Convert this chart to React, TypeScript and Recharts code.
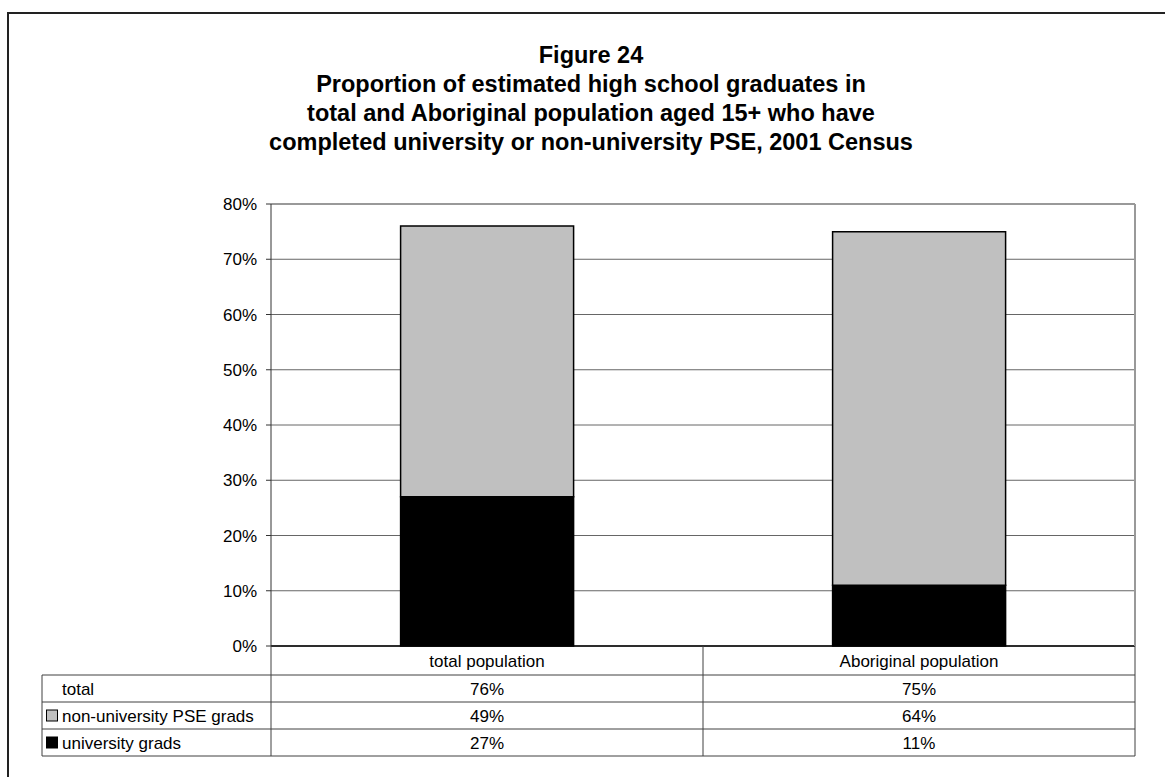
import React from "react";
import {
  BarChart,
  Bar,
  XAxis,
  YAxis,
  CartesianGrid,
  ReferenceLine,
} from "recharts";

const categories = ["total population", "Aboriginal population"];
const universityGrads = [27, 11];
const nonUniversityGrads = [49, 64];
const totals = [76, 75];
const yTicks = [0, 10, 20, 30, 40, 50, 60, 70, 80];

const rowLabels = ["total", "non-university PSE grads", "university grads"];
const rowColors = [null, "#c0c0c0", "#000000"];

const data = categories.map((name, i) => ({
  name,
  university: universityGrads[i],
  nonUniversity: nonUniversityGrads[i],
}));

const FONT = '"Liberation Sans", Arial, Helvetica, sans-serif';
const W = 1165;
const H = 777;
const PLOT_LEFT = 271;
const PLOT_RIGHT = 1135;
const PLOT_TOP = 204;
const PLOT_BOTTOM = 646;
const Y_AXIS_W = 80;
const X_AXIS_H = 110;
const ROW_H = 27;
const TABLE_LEFT = 42;
const LINE = "#404040";

const halfBand = (PLOT_RIGHT - PLOT_LEFT) / categories.length / 2;

// header label + data table cells drawn under each category
const TableTick = (props: any) => {
  const { x, payload, index } = props;
  const headBottom = PLOT_BOTTOM + 29;
  const tableBottom = headBottom + ROW_H * 3;
  const rowValues = [totals, nonUniversityGrads, universityGrads];
  const last = index === categories.length - 1;
  return (
    <g>
      {index === 0 && (
        <g>
          {[0, 1, 2, 3].map((r) => (
            <line
              key={r}
              x1={TABLE_LEFT}
              x2={PLOT_RIGHT}
              y1={headBottom + r * ROW_H}
              y2={headBottom + r * ROW_H}
              stroke={LINE}
            />
          ))}
          <line x1={TABLE_LEFT} x2={TABLE_LEFT} y1={headBottom} y2={tableBottom} stroke={LINE} />
          <line x1={x - halfBand} x2={x - halfBand} y1={PLOT_BOTTOM} y2={tableBottom} stroke={LINE} />
          {rowLabels.map((label, r) => {
            const cy = headBottom + r * ROW_H + ROW_H / 2;
            return (
              <g key={label}>
                {rowColors[r] && (
                  <rect x={46.5} y={cy - 5.5} width={11} height={11} fill={rowColors[r] as string} stroke="#000" />
                )}
                <text x={62} y={cy} dy="0.36em" fontSize={17} fill="#000" fontFamily={FONT}>
                  {label}
                </text>
              </g>
            );
          })}
        </g>
      )}
      <line x1={x + halfBand} x2={x + halfBand} y1={PLOT_BOTTOM} y2={tableBottom} stroke={LINE} />
      {last && (
        <line x1={x + halfBand} x2={x + halfBand} y1={PLOT_TOP} y2={PLOT_BOTTOM} stroke="#999" strokeWidth={2} />
      )}
      <text x={x} y={PLOT_BOTTOM + 15} dy="0.36em" textAnchor="middle" fontSize={17} fill="#000" fontFamily={FONT}>
        {payload.value}
      </text>
      {rowValues.map((vals, r) => (
        <text
          key={r}
          x={x}
          y={headBottom + r * ROW_H + ROW_H / 2}
          dy="0.36em"
          textAnchor="middle"
          fontSize={17}
          fill="#000"
          fontFamily={FONT}
        >
          {vals[index]}%
        </text>
      ))}
    </g>
  );
};

const App: React.FC = () => {
  return (
    <div style={{ position: "absolute", left: 0, top: 0, width: W, height: H, background: "#fff", fontFamily: FONT }}>
      <div
        style={{
          position: "absolute",
          left: 7,
          top: 12,
          width: W - 7,
          height: H - 12,
          boxSizing: "border-box",
          borderTop: "2px solid #222",
          borderLeft: "2px solid #222",
        }}
      />
      <div
        style={{
          position: "absolute",
          left: 91,
          top: 41,
          width: 1000,
          textAlign: "center",
          fontWeight: "bold",
          fontSize: 23.5,
          lineHeight: "29px",
          color: "#000",
        }}
      >
        Figure 24
        <br />
        Proportion of estimated high school graduates in
        <br />
        total and Aboriginal population aged 15+ who have
        <br />
        completed university or non-university PSE, 2001 Census
      </div>
      <div style={{ position: "absolute", left: 0, top: 0 }}>
        <BarChart
          width={W}
          height={H}
          data={data}
          barCategoryGap="30%"
          margin={{
            top: PLOT_TOP,
            right: W - PLOT_RIGHT,
            left: PLOT_LEFT - Y_AXIS_W,
            bottom: H - PLOT_BOTTOM - X_AXIS_H,
          }}
        >
          <CartesianGrid vertical={false} stroke="#666" />
          <XAxis
            dataKey="name"
            height={X_AXIS_H}
            axisLine={{ stroke: "#000", strokeWidth: 1.5 }}
            tickLine={false}
            interval={0}
            tick={<TableTick />}
          />
          <YAxis
            type="number"
            domain={[0, 80]}
            ticks={yTicks}
            width={Y_AXIS_W}
            tickFormatter={(v: number) => `${v}%`}
            axisLine={{ stroke: "#333" }}
            tickLine={{ stroke: "#333" }}
            tickSize={5}
            tickMargin={9}
            tick={{ fill: "#000", fontSize: 17, fontFamily: FONT }}
          />
          <ReferenceLine y={80} stroke="#999" strokeWidth={2} />
          <Bar
            dataKey="university"
            stackId="a"
            fill="#000000"
            stroke="#000"
            strokeWidth={1.5}
            isAnimationActive={false}
          />
          <Bar
            dataKey="nonUniversity"
            stackId="a"
            fill="#c0c0c0"
            stroke="#000"
            strokeWidth={1.5}
            isAnimationActive={false}
          />
        </BarChart>
      </div>
    </div>
  );
};

export default App;
